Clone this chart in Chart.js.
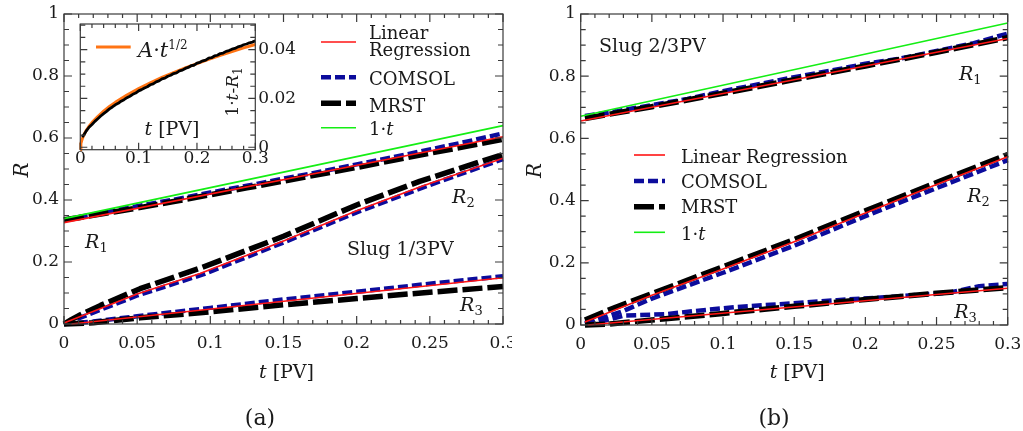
<!DOCTYPE html>
<html><head><meta charset="utf-8">
<script src="https://cdn.jsdelivr.net/npm/chart.js@4/dist/chart.umd.min.js"></script>
<style>
html,body{margin:0;padding:0;background:#fff;}
#wrap{position:relative;width:1023px;height:431px;overflow:hidden;background:#fff;}
canvas{position:absolute;}
</style></head><body>
<div id="wrap">
<canvas id="ca" width="512" height="431" style="left:0;top:0"></canvas>
<canvas id="cb" width="511" height="431" style="left:512px;top:0"></canvas>
<canvas id="ci" width="250" height="175" style="left:60px;top:0"></canvas>
</div>
<script>
// ---------------- data (t [PV], R) ----------------
const xTicks = [0, 0.05, 0.1, 0.15, 0.2, 0.25, 0.3];
const yTicks = [0, 0.2, 0.4, 0.6, 0.8, 1];
const insetXTicks = [0, 0.1, 0.2, 0.3];
const insetYTicks = [0, 0.02, 0.04];
const seriesNames = ['Linear Regression', 'COMSOL', 'MRST', '1·t'];

// panel (a) Slug 1/3PV
const a_unit = [[0, 0.34], [0.3, 0.64]];
const a_R1_lr = [[0, 0.327], [0.3, 0.604]];
const a_R1_comsol = [[0, 0.336], [0.025, 0.358], [0.05, 0.380], [0.075, 0.401], [0.1, 0.424], [0.125, 0.446], [0.15, 0.469], [0.175, 0.491], [0.2, 0.515], [0.225, 0.538], [0.25, 0.563], [0.275, 0.588], [0.3, 0.615]];
const a_R1_mrst = [[0, 0.336], [0.01, 0.343], [0.02, 0.351], [0.035, 0.362], [0.05, 0.374], [0.075, 0.395], [0.1, 0.417], [0.125, 0.439], [0.15, 0.461], [0.175, 0.483], [0.2, 0.505], [0.225, 0.528], [0.25, 0.551], [0.275, 0.573], [0.3, 0.596]];
const a_R2_lr = [[0, 0.003], [0.05, 0.097], [0.093, 0.163], [0.15, 0.268], [0.2, 0.365], [0.245, 0.445], [0.3, 0.535]];
const a_R2_comsol = [[0, 0.0], [0.05, 0.092], [0.095, 0.160], [0.15, 0.263], [0.2, 0.360], [0.245, 0.440], [0.3, 0.532]];
const a_R2_mrst = [[0, 0.0], [0.005, 0.014], [0.011, 0.029], [0.025, 0.060], [0.052, 0.114], [0.093, 0.180], [0.15, 0.283], [0.2, 0.384], [0.243, 0.460], [0.3, 0.547]];
const a_R3_lr = [[0.005, 0.0], [0.3, 0.149]];
const a_R3_comsol = [[0, 0.0], [0.02, 0.008], [0.05, 0.025], [0.1, 0.052], [0.15, 0.079], [0.2, 0.104], [0.25, 0.130], [0.3, 0.154]];
const a_R3_mrst = [[0, 0.0], [0.02, 0.004], [0.052, 0.020], [0.093, 0.036], [0.15, 0.062], [0.2, 0.082], [0.236, 0.097], [0.3, 0.121]];

// panel (b) Slug 2/3PV
const b_unit = [[0, 0.671], [0.3, 0.971]];
const b_R1_lr = [[0, 0.656], [0.3, 0.921]];
const b_R1_comsol = [[0.003, 0.672], [0.025, 0.687], [0.05, 0.707], [0.075, 0.727], [0.1, 0.752], [0.125, 0.774], [0.15, 0.797], [0.175, 0.817], [0.2, 0.840], [0.225, 0.857], [0.25, 0.881], [0.275, 0.905], [0.3, 0.937]];
const b_R1_mrst = [[0.003, 0.664], [0.05, 0.702], [0.1, 0.745], [0.15, 0.789], [0.2, 0.833], [0.25, 0.877], [0.3, 0.924]];
const b_R2_lr = [[0.003, 0.010], [0.05, 0.096], [0.1, 0.180], [0.15, 0.268], [0.2, 0.360], [0.25, 0.452], [0.3, 0.541]];
const b_R2_comsol = [[0.003, 0.004], [0.03, 0.045], [0.05, 0.085], [0.1, 0.168], [0.15, 0.255], [0.2, 0.350], [0.25, 0.440], [0.3, 0.530]];
const b_R2_mrst = [[0.003, 0.016], [0.025, 0.058], [0.05, 0.101], [0.1, 0.187], [0.15, 0.275], [0.2, 0.367], [0.25, 0.458], [0.3, 0.548]];
const b_R3_lr = [[0.005, 0.0], [0.3, 0.118]];
const b_R3_comsol = [[0.003, 0.008], [0.015, 0.012], [0.03, 0.030], [0.06, 0.035], [0.08, 0.045], [0.11, 0.058], [0.14, 0.067], [0.18, 0.080], [0.22, 0.091], [0.26, 0.105], [0.28, 0.125], [0.3, 0.132]];
const b_R3_mrst = [[0.003, 0.0], [0.02, 0.003], [0.05, 0.016], [0.1, 0.037], [0.15, 0.060], [0.2, 0.082], [0.25, 0.102], [0.3, 0.120]];

// inset of (a): 1·t - R1 versus t
const inset_fit = [[0, -0.001], [0.001, 0.0015], [0.003, 0.0032], [0.006, 0.0050], [0.01, 0.0068], [0.015, 0.0086], [0.02, 0.0101], [0.03, 0.0126], [0.04, 0.0148], [0.05, 0.0167], [0.06, 0.0184], [0.08, 0.0214], [0.1, 0.0240], [0.12, 0.0264], [0.14, 0.0286], [0.16, 0.0306], [0.18, 0.0325], [0.2, 0.0343], [0.22, 0.0360], [0.24, 0.0377], [0.26, 0.0392], [0.28, 0.0407], [0.3, 0.0421]];
const inset_mrst = [[0.003, 0.0042], [0.006, 0.0050], [0.010, 0.0066], [0.015, 0.0082], [0.020, 0.0093], [0.025, 0.0106], [0.030, 0.0117], [0.035, 0.0128], [0.040, 0.0138], [0.045, 0.0147], [0.050, 0.0157], [0.055, 0.0165], [0.060, 0.0174], [0.065, 0.0180], [0.070, 0.0189], [0.075, 0.0195], [0.080, 0.0203], [0.085, 0.0209], [0.090, 0.0217], [0.095, 0.0222], [0.100, 0.0231], [0.105, 0.0236], [0.110, 0.0243], [0.115, 0.0248], [0.120, 0.0256], [0.125, 0.0260], [0.130, 0.0268], [0.135, 0.0272], [0.140, 0.0280], [0.145, 0.0283], [0.150, 0.0291], [0.155, 0.0295], [0.160, 0.0302], [0.165, 0.0305], [0.170, 0.0313], [0.175, 0.0316], [0.180, 0.0323], [0.185, 0.0327], [0.190, 0.0334], [0.195, 0.0336], [0.200, 0.0345], [0.205, 0.0348], [0.210, 0.0354], [0.215, 0.0357], [0.220, 0.0365], [0.225, 0.0367], [0.230, 0.0374], [0.235, 0.0377], [0.240, 0.0384], [0.245, 0.0386], [0.250, 0.0393], [0.255, 0.0396], [0.260, 0.0402], [0.265, 0.0405], [0.270, 0.0411], [0.275, 0.0414], [0.280, 0.0420], [0.285, 0.0423], [0.290, 0.0428], [0.295, 0.0431], [0.300, 0.0436]];

// ---------------- styling ----------------
const FAM = 'DejaVu Serif';
const f = (size, it) => (it ? 'italic ' : '') + size + 'px "' + FAM + '"';
const TXT = '#1a1a1a';
const STY = {
  lr: { color: '#ff1414', width: 1.6, dash: [], order: 0 },
  unit: { color: '#14ee14', width: 1.6, dash: [], order: 1 },
  mrst: { color: '#000000', width: 5.5, dash: [20, 5], order: 2 },
  comsol: { color: '#0c0c9c', width: 4.5, dash: [10, 4], order: 3 },
  fit: { color: '#ff7414', width: 3, dash: [], order: 1 },
  noisy: { color: '#000000', width: 2.8, dash: [], order: 0 }
};
const fmt = v => String(parseFloat(Number(v).toFixed(4)));

function ds(pairs, kind) {
  const s = STY[kind];
  return {
    data: pairs.map(p => ({ x: p[0], y: p[1] })),
    borderColor: s.color, borderWidth: s.width, borderDash: s.dash,
    borderCapStyle: 'butt', borderJoinStyle: 'round',
    pointRadius: 0, tension: 0, fill: false, order: s.order, clip: 6
  };
}

function rich(ctx, x, y, parts, align, angle) {
  ctx.save();
  ctx.translate(x, y);
  if (angle) ctx.rotate(angle);
  ctx.textBaseline = 'alphabetic';
  ctx.textAlign = 'left';
  let w = 0;
  for (const p of parts) { ctx.font = p.f; w += ctx.measureText(p.t).width; }
  let cx = align === 'center' ? -w / 2 : align === 'right' ? -w : 0;
  for (const p of parts) {
    ctx.font = p.f; ctx.fillStyle = p.c || TXT;
    ctx.fillText(p.t, cx, p.dy || 0);
    cx += ctx.measureText(p.t).width;
  }
  ctx.restore();
}
const Rsub = n => [{ t: 'R', f: f(19, true) }, { t: n, f: f(13), dy: 4 }];
const unitLabel = sz => [{ t: '1·', f: f(sz) }, { t: 't', f: f(sz, true) }];

function ticksFrame(chart, t) {
  const { ctx, chartArea: a } = chart;
  const xs = chart.scales.x, ys = chart.scales.y;
  ctx.save();
  ctx.strokeStyle = '#3a3a3a'; ctx.lineWidth = 1.2;
  ctx.beginPath();
  const isMaj = (arr, v) => arr.some(m => Math.abs(m - v) < 1e-9);
  for (let k = Math.ceil(xs.min / t.xMinor - 1e-9); k <= Math.floor(xs.max / t.xMinor + 1e-9); k++) {
    const v = k * t.xMinor, px = xs.getPixelForValue(v);
    const L = isMaj(t.xMajor, v) ? t.maj : t.min;
    ctx.moveTo(px, a.bottom); ctx.lineTo(px, a.bottom - L);
    ctx.moveTo(px, a.top); ctx.lineTo(px, a.top + L);
  }
  for (let k = Math.ceil(ys.min / t.yMinor - 1e-9); k <= Math.floor(ys.max / t.yMinor + 1e-9); k++) {
    const v = k * t.yMinor, py = ys.getPixelForValue(v);
    const L = isMaj(t.yMajor, v) ? t.maj : t.ymin;
    ctx.moveTo(a.left, py); ctx.lineTo(a.left + L, py);
    ctx.moveTo(a.right, py); ctx.lineTo(a.right - L, py);
  }
  ctx.stroke();
  ctx.strokeRect(a.left, a.top, a.right - a.left, a.bottom - a.top);
  ctx.restore();
}

function legend(ctx, x0, x1, tx, rows) {
  for (const r of rows) {
    const s = STY[r.kind];
    ctx.save();
    ctx.strokeStyle = s.color; ctx.lineWidth = s.width; ctx.setLineDash(s.dash); ctx.lineCap = 'butt';
    ctx.beginPath(); ctx.moveTo(x0, r.y); ctx.lineTo(x1, r.y); ctx.stroke();
    ctx.restore();
    r.lines.forEach(l => rich(ctx, tx, l.b, l.parts, 'left'));
  }
}

function mainChart(id, sets, g, deco) {
  return new Chart(document.getElementById(id), {
    type: 'line',
    data: { datasets: sets },
    options: {
      responsive: false, animation: false, devicePixelRatio: 1, events: [],
      layout: { padding: { left: 0, top: g.top, right: g.right, bottom: g.bottom } },
      plugins: { legend: { display: false }, tooltip: { enabled: false } },
      scales: {
        x: {
          type: 'linear', min: 0, max: 0.3,
          grid: { display: false, drawTicks: false }, border: { display: false },
          afterBuildTicks: s => { s.ticks = xTicks.map(v => ({ value: v })); },
          afterFit: s => { s.height = g.xh; s.paddingLeft = 0; s.paddingRight = 0; },
          ticks: { font: { family: FAM, size: 17 }, color: TXT, padding: 9, maxRotation: 0, autoSkip: false, callback: fmt }
        },
        y: {
          type: 'linear', min: 0, max: 1,
          grid: { display: false, drawTicks: false }, border: { display: false },
          afterBuildTicks: s => { s.ticks = yTicks.map(v => ({ value: v })); },
          afterFit: s => { s.width = g.yw; s.paddingTop = 0; s.paddingBottom = 0; },
          ticks: { font: { family: FAM, size: 17 }, color: TXT, padding: 5, autoSkip: false, callback: fmt }
        }
      }
    },
    plugins: [{
      id: 'deco',
      afterDraw(chart) {
        const ctx = chart.ctx, a = chart.chartArea, xs = chart.scales.x, ys = chart.scales.y;
        ticksFrame(chart, { xMinor: 0.01, xMajor: xTicks, yMinor: 0.05, yMajor: yTicks, maj: 8, min: 4, ymin: 5 });
        rich(ctx, (a.left + a.right) / 2 + 3, g.xtB, [{ t: 't', f: f(19, true) }, { t: ' [PV]', f: f(19) }], 'center');
        rich(ctx, g.ytX, (a.top + a.bottom) / 2 + 1, [{ t: 'R', f: f(20, true) }], 'center', -Math.PI / 2);
        for (const l of deco.labels) rich(ctx, xs.getPixelForValue(l.t), ys.getPixelForValue(l.r), l.parts, 'left');
        legend(ctx, deco.lx0, deco.lx1, deco.ltx, deco.rows);
        rich(ctx, deco.capX, 425, [{ t: deco.cap, f: f(22) }], 'center');
      }
    }]
  });
}

// ---------- panel (a)
mainChart('ca', [
  ds(a_R1_lr, 'lr'), ds(a_R2_lr, 'lr'), ds(a_R3_lr, 'lr'),
  ds(a_unit, 'unit'),
  ds(a_R1_mrst, 'mrst'), ds(a_R2_mrst, 'mrst'), ds(a_R3_mrst, 'mrst'),
  ds(a_R1_comsol, 'comsol'), ds(a_R2_comsol, 'comsol'), ds(a_R3_comsol, 'comsol')
], { top: 14, right: 9, bottom: 52, xh: 55, yw: 64, xtB: 378, ytX: 28 }, {
  labels: [
    { t: 0.0144, r: 0.246, parts: Rsub('1') },
    { t: 0.2652, r: 0.389, parts: Rsub('2') },
    { t: 0.2707, r: 0.042, parts: Rsub('3') },
    { t: 0.1934, r: 0.221, parts: [{ t: 'Slug 1/3PV', f: f(19) }] }
  ],
  lx0: 321, lx1: 356, ltx: 369,
  rows: [
    { kind: 'lr', y: 42, lines: [{ b: 38.5, parts: [{ t: 'Linear', f: f(18) }] }, { b: 56, parts: [{ t: 'Regression', f: f(18) }] }] },
    { kind: 'comsol', y: 77.3, lines: [{ b: 85, parts: [{ t: seriesNames[1], f: f(18) }] }] },
    { kind: 'mrst', y: 103.3, lines: [{ b: 111.5, parts: [{ t: seriesNames[2], f: f(18) }] }] },
    { kind: 'unit', y: 127.7, lines: [{ b: 135, parts: unitLabel(18) }] }
  ],
  cap: '(a)', capX: 260
});

// ---------- panel (b)
mainChart('cb', [
  ds(b_R1_lr, 'lr'), ds(b_R2_lr, 'lr'), ds(b_R3_lr, 'lr'),
  ds(b_unit, 'unit'),
  ds(b_R1_mrst, 'mrst'), ds(b_R2_mrst, 'mrst'), ds(b_R3_mrst, 'mrst'),
  ds(b_R1_comsol, 'comsol'), ds(b_R2_comsol, 'comsol'), ds(b_R3_comsol, 'comsol')
], { top: 14, right: 15.3, bottom: 51, xh: 55, yw: 68.7, xtB: 377.7, ytX: 29 }, {
  labels: [
    { t: 0.2658, r: 0.788, parts: Rsub('1') },
    { t: 0.2715, r: 0.396, parts: Rsub('2') },
    { t: 0.2624, r: 0.0235, parts: Rsub('3') },
    { t: 0.0129, r: 0.878, parts: [{ t: 'Slug 2/3PV', f: f(19) }] }
  ],
  lx0: 122, lx1: 153, ltx: 169,
  rows: [
    { kind: 'lr', y: 155, lines: [{ b: 163.3, parts: [{ t: seriesNames[0], f: f(18) }] }] },
    { kind: 'comsol', y: 181, lines: [{ b: 188.3, parts: [{ t: seriesNames[1], f: f(18) }] }] },
    { kind: 'mrst', y: 206.7, lines: [{ b: 213.3, parts: [{ t: seriesNames[2], f: f(18) }] }] },
    { kind: 'unit', y: 232.3, lines: [{ b: 240, parts: unitLabel(18) }] }
  ],
  cap: '(b)', capX: 262
});

// ---------- inset of (a)
new Chart(document.getElementById('ci'), {
  type: 'line',
  data: { datasets: [ds(inset_mrst, 'noisy'), ds(inset_fit, 'fit')] },
  options: {
    responsive: false, animation: false, devicePixelRatio: 1, events: [],
    layout: { padding: { left: 20.3, top: 24, right: 14.7, bottom: 5.3 } },
    plugins: { legend: { display: false }, tooltip: { enabled: false } },
    scales: {
      x: {
        type: 'linear', min: 0, max: 0.3,
        grid: { display: false, drawTicks: false }, border: { display: false },
        afterBuildTicks: s => { s.ticks = insetXTicks.map(v => ({ value: v })); },
        afterFit: s => { s.height = 20; s.paddingLeft = 0; s.paddingRight = 0; },
        ticks: { font: { family: FAM, size: 17, lineHeight: 1 }, color: TXT, padding: 0, maxRotation: 0, autoSkip: false, callback: fmt }
      },
      y: {
        type: 'linear', position: 'right', min: -0.001, max: 0.0505,
        grid: { display: false, drawTicks: false }, border: { display: false },
        afterBuildTicks: s => { s.ticks = insetYTicks.map(v => ({ value: v })); },
        afterFit: s => { s.width = 40; s.paddingTop = 0; s.paddingBottom = 0; },
        ticks: { font: { family: FAM, size: 17 }, color: TXT, padding: 3, autoSkip: false, callback: fmt }
      }
    }
  },
  plugins: [{
    id: 'insetDeco',
    beforeDatasetsDraw(chart) {
      const { ctx, chartArea: a } = chart;
      ctx.save(); ctx.fillStyle = '#fff'; ctx.fillRect(a.left, a.top, a.right - a.left, a.bottom - a.top); ctx.restore();
    },
    afterDraw(chart) {
      const ctx = chart.ctx;
      ticksFrame(chart, { xMinor: 0.02, xMajor: insetXTicks, yMinor: 0.005, yMajor: insetYTicks, maj: 7, min: 4, ymin: 5 });
      const s = STY.fit;
      ctx.save(); ctx.strokeStyle = s.color; ctx.lineWidth = s.width;
      ctx.beginPath(); ctx.moveTo(36, 47); ctx.lineTo(70.7, 47); ctx.stroke(); ctx.restore();
      rich(ctx, 78, 56.5, [{ t: 'A', f: f(21, true) }, { t: '·', f: f(21) }, { t: 't', f: f(21, true) }, { t: '1/2', f: f(12), dy: -8 }], 'left');
      rich(ctx, 112, 134.5, [{ t: 't', f: f(19, true) }, { t: ' [PV]', f: f(19) }], 'center');
      rich(ctx, 178, 92, [{ t: '1·', f: f(17) }, { t: 't', f: f(17, true) }, { t: '-', f: f(17) }, { t: 'R', f: f(17, true) }, { t: '1', f: f(12), dy: 4 }], 'center', -Math.PI / 2);
    }
  }]
});
</script>
</body></html>
